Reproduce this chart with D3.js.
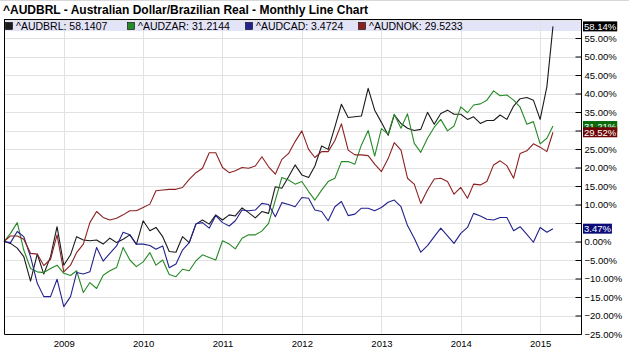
<!DOCTYPE html>
<html>
<head>
<meta charset="utf-8">
<script src="https://cdn.jsdelivr.net/npm/d3@7/dist/d3.min.js"></script>
<style>
  html, body { margin: 0; padding: 0; background: #fff; }
  svg { display: block; font-family: "Liberation Sans", Arial, sans-serif; }
</style>
</head>
<body>
<svg id="chart" width="629" height="355"></svg>
<script>
// ---------------- DATA ----------------
const title = "^AUDBRL - Australian Dollar/Brazilian Real - Monthly Line Chart";
const seriesNames = ["^AUDBRL", "^AUDZAR", "^AUDCAD", "^AUDNOK"];
const lastValues = ["58.1407", "31.2144", "3.4724", "29.5233"];
const badgeLabels = ["58.14%", "31.21%", "3.47%", "29.52%"];
const startMonth = "2008-04-01";   // first monthly observation
const monthCount = 84;             // Apr 2008 .. Mar 2015
const yearTicks = [2009, 2010, 2011, 2012, 2013, 2014, 2015];
const yTicks = [-25, -20, -15, -10, -5, 0, 5, 10, 15, 20, 25, 30, 35, 40, 45, 50, 55];

const audbrl = [0, -0.5, -1.8, -4.1, -10.7, -3.4, -8.8, -4.1, 4.0, -6.4,
  -3.6, 1.3, 0.4, 0.2, 0.4, -0.7, 0.9, -0.3, 0.6, 1.8,
  -0.8, 5.6, 2.9, 3.8, 1.3, -2.7, -2.9, 1.3, -0.3, 4.7,
  5.8, 4.7, 7.2, 5.8, 7.2, 6.9, 9.1, 7.8, 6.4, 8.1,
  7.6, 14.8, 14.4, 17.5, 20.7, 18.0, 17.3, 20.4, 25.8, 24.9,
  31.0, 37.1, 33.5, 33.7, 33.9, 41.4, 35.5, 32.2, 28.7, 34.2,
  31.9, 30.6, 30.0, 30.3, 34.9, 31.7, 34.6, 35.5, 34.4, 34.4,
  33.0, 33.7, 31.9, 32.7, 32.7, 34.2, 33.0, 36.6, 38.6, 38.9,
  38.2, 33.0, 41.8, 58.14];
const audzar = [0, 2.2, 5.1, -2.3, -7.3, -8.2, -8.4, -7.3, -6.4, -8.6,
  -9.2, -7.9, -13.8, -11.1, -12.7, -9.1, -7.9, -7.0, -1.6, -5.0,
  -6.8, -5.5, -3.0, -6.4, -5.0, -8.9, -9.5, -7.5, -7.9, -5.2,
  -3.6, -4.3, -5.0, 0.2, -0.7, -2.0, 0.9, 1.8, 1.8, 2.8,
  4.9, 11.2, 17.3, 16.6, 15.5, 16.2, 13.5, 11.2, 13.9, 16.2,
  17.1, 21.6, 21.6, 20.9, 26.1, 30.0, 23.1, 30.5, 29.0, 34.4,
  30.6, 34.5, 26.5, 24.1, 27.9, 30.9, 33.0, 29.9, 31.2, 36.4,
  34.8, 36.9, 37.2, 38.2, 40.7, 39.4, 39.6, 38.2, 36.3, 31.7,
  32.4, 26.4, 27.9, 31.21];
const audcad = [0, -0.3, 2.7, 1.3, -4.1, -11.3, -14.9, -14.9, -10.2, -17.6,
  -14.9, -8.4, -8.8, -8.2, -1.6, -5.3, -3.2, -1.2, 2.5, 1.8,
  -0.7, -0.7, -1.1, -2.1, -1.2, -7.1, -6.1, -2.3, -0.3, 4.8,
  5.1, 3.6, 7.0, 5.1, 4.2, 5.6, 8.5, 8.3, 8.5, 10.3,
  10.0, 6.7, 10.5, 10.0, 9.4, 11.9, 11.7, 8.5, 8.1, 5.6,
  9.4, 10.8, 7.0, 7.4, 9.0, 9.0, 8.3, 9.2, 10.6, 11.2,
  9.4, 4.3, 0.9, -2.9, -1.1, 1.3, 3.6, 1.5, -0.5, 2.2,
  3.8, 7.6, 6.9, 6.0, 5.8, 6.5, 6.5, 2.9, 4.0, 1.9,
  -0.2, 3.8, 2.5, 3.47];
const audnok = [0, 1.5, 1.5, 0.6, -3.2, -3.4, -6.5, -4.8, 1.8, -8.2,
  -6.4, -3.0, -0.7, 5.1, 8.1, 6.5, 5.8, 6.3, 7.2, 8.3,
  8.3, 9.2, 10.1, 13.7, 13.9, 14.1, 14.1, 14.6, 16.8, 18.6,
  19.8, 24.0, 24.0, 20.0, 18.6, 19.1, 20.0, 19.8, 20.4, 22.9,
  20.2, 18.2, 22.2, 23.8, 27.0, 29.9, 24.9, 22.7, 24.3, 24.3,
  27.3, 31.8, 24.7, 23.4, 23.4, 23.2, 20.9, 18.9, 22.4, 26.7,
  24.7, 17.1, 15.5, 10.3, 13.9, 16.9, 17.1, 16.2, 12.8, 14.6,
  11.7, 15.5, 15.3, 16.2, 20.7, 21.8, 20.5, 17.1, 23.8, 24.5,
  26.4, 25.5, 24.3, 29.52];

// ---------------- STYLE / LAYOUT ----------------
const lineColors = ["#1a1a1a", "#268a26", "#22228c", "#8c2020"];
const badgeColors = ["#000000", "#0c6a0c", "#0c0c78", "#6c0606"];
const plot = { left: 4, right: 581, top: 19.5, bottom: 334 };
const legendX = [5, 127, 245, 358];

const svg = d3.select("#chart");
const parse = d3.timeParse("%Y-%m-%d");
const t0 = parse(startMonth);
const months = d3.range(monthCount).map(i => d3.timeMonth.offset(t0, i));
const allSeries = [audbrl, audzar, audcad, audnok];

const x = d3.scaleTime()
  .domain([t0, new Date(2015, 6, 8)])
  .range([plot.left, plot.right]);
const y = d3.scaleLinear().domain([-25, 60]).range([plot.bottom, plot.top]);

svg.append("rect").attr("width", 629).attr("height", 355).attr("fill", "#fff");
svg.append("line").attr("x1", 0).attr("x2", 629).attr("y1", 0.5).attr("y2", 0.5)
  .attr("stroke", "#d8d8d8");

// title
svg.append("text").attr("x", 3).attr("y", 13.5)
  .attr("font-size", 12).attr("font-weight", "bold").attr("fill", "#000")
  .text(title);

// legend band
svg.append("rect").attr("x", plot.left).attr("y", plot.top)
  .attr("width", plot.right - plot.left).attr("height", 11.5)
  .attr("fill", "#e4e4f8");

// grid
const grid = svg.append("g");
grid.selectAll("line.h").data(yTicks.concat([60])).enter().append("line")
  .attr("x1", plot.left).attr("x2", plot.right)
  .attr("y1", d => Math.round(y(d)) + 0.5).attr("y2", d => Math.round(y(d)) + 0.5)
  .attr("stroke", "#e2e2e2").attr("stroke-width", 1);
grid.selectAll("line.v").data(yearTicks).enter().append("line")
  .attr("x1", d => Math.round(x(new Date(d, 0, 1))) + 0.5)
  .attr("x2", d => Math.round(x(new Date(d, 0, 1))) + 0.5)
  .attr("y1", plot.top).attr("y2", plot.bottom)
  .attr("stroke", "#e2e2e2").attr("stroke-width", 1);

// lines
const line = d3.line().x((d, i) => x(months[i])).y(d => y(d));
allSeries.forEach((s, k) => {
  svg.append("path").datum(s).attr("d", line)
    .attr("fill", "none").attr("stroke", lineColors[k])
    .attr("stroke-width", 1.1).attr("stroke-linejoin", "round");
});

// frame
svg.append("path")
  .attr("d", `M${plot.left + 0.5},${plot.top}V${plot.bottom + 0.5}H${plot.right + 0.5}V${plot.top}`)
  .attr("fill", "none").attr("stroke", "#000");
svg.append("line").attr("x1", plot.left).attr("x2", plot.right + 1)
  .attr("y1", plot.top).attr("y2", plot.top).attr("stroke", "#000");

// legend
const leg = svg.append("g").attr("font-size", 10.5);
seriesNames.forEach((n, k) => {
  const g = leg.append("g").attr("transform", `translate(${legendX[k]},0)`);
  g.append("rect").attr("x", 0.5).attr("y", 22.5).attr("width", 7).attr("height", 7)
    .attr("fill", lineColors[k]).attr("stroke", "#000").attr("stroke-width", 0.6);
  g.append("text").attr("x", 11).attr("y", 29.5).attr("fill", "#000")
    .text(`${n}: ${lastValues[k]}`);
});

// right axis (labels hidden where a value badge sits, as in the original)
const badgeYs = allSeries.map(s => y(s[s.length - 1]));
const yAxis = d3.axisRight(y).tickValues(yTicks)
  .tickFormat(d => d3.format(".2f")(d) + "%").tickSize(0).tickPadding(3);
const ax = svg.append("g").attr("transform", `translate(${plot.right + 0.5},0)`).call(yAxis);
ax.select(".domain").remove();
ax.selectAll("text").attr("font-size", 9.5).attr("fill", "#000")
  .attr("font-family", "'Liberation Sans', Arial, sans-serif")
  .attr("display", d => badgeYs.some(by => Math.abs(by - y(d)) < 9) ? "none" : null);
ax.selectAll(".tick").append("line").attr("x1", -6).attr("x2", 0)
  .attr("stroke", "#000");

// bottom axis
const xAxis = d3.axisBottom(x).tickValues(yearTicks.map(d => new Date(d, 0, 1)))
  .tickFormat(d3.timeFormat("%Y")).tickSize(0).tickPadding(6);
const bx = svg.append("g").attr("transform", `translate(0,${plot.bottom})`).call(xAxis);
bx.select(".domain").remove();
bx.selectAll("text").attr("font-size", 9.5).attr("fill", "#000")
  .attr("font-family", "'Liberation Sans', Arial, sans-serif");

// value badges
const bg = svg.append("g").attr("font-size", 9.5);
allSeries.forEach((s, k) => {
  const v = s[s.length - 1];
  const cy = y(v);
  const g = bg.append("g");
  const txt = g.append("text").attr("x", plot.right + 3).attr("y", cy + 3.5)
    .attr("fill", "#fff").text(badgeLabels[k]);
  const w = txt.node().getComputedTextLength();
  g.insert("rect", "text").attr("x", plot.right + 2).attr("y", cy - 5)
    .attr("width", w + 2).attr("height", 10).attr("fill", badgeColors[k]);
});
</script>
</body>
</html>
